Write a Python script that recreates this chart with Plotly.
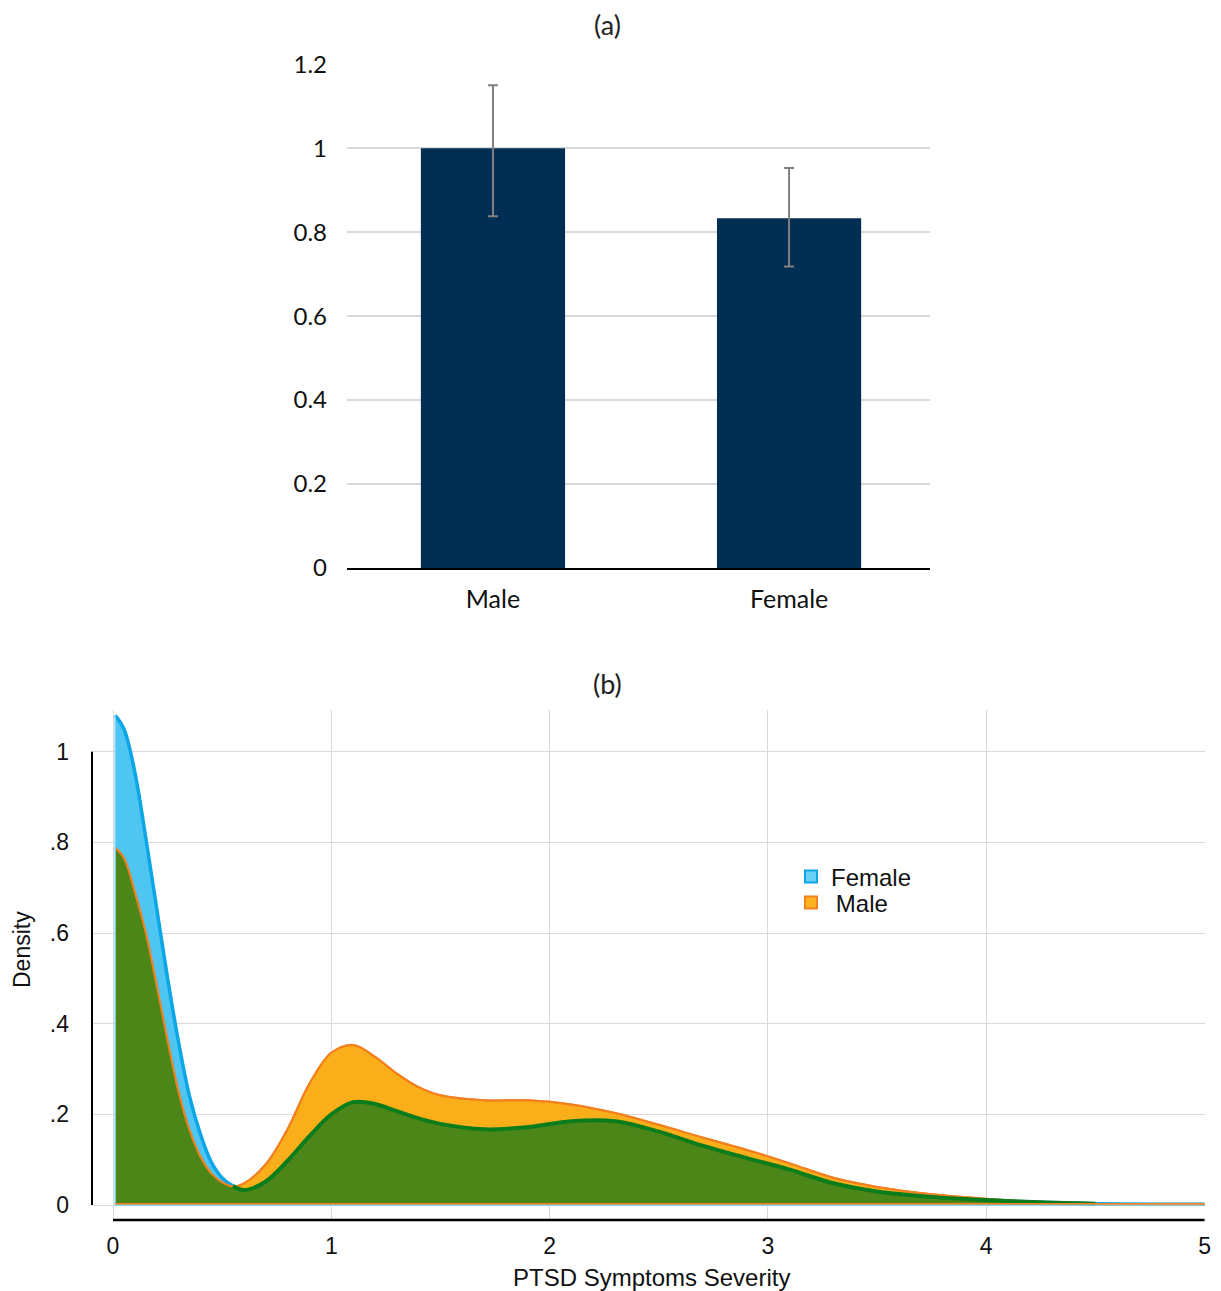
import plotly.graph_objects as go

# ---- (a) bar chart data ----
bar_categories = ["Male", "Female"]
bar_values = [1.0, 0.833]
err_plus = [0.15, 0.12]
err_minus = [0.162, 0.115]
bar_ytickvals = [0, 0.2, 0.4, 0.6, 0.8, 1.0, 1.2]
bar_yticktext = ["0", "0.2", "0.4", "0.6", "0.8", "1", "1.2"]

# ---- (b) density data ----
sev_x = [0.01, 0.05, 0.1, 0.15, 0.2, 0.25, 0.3, 0.35, 0.4, 0.45, 0.5, 0.55, 0.6,
         0.7, 0.8, 0.9, 1.0, 1.1, 1.2, 1.3, 1.4, 1.5, 1.7, 1.9, 2.1, 2.3, 2.5,
         2.7, 2.9, 3.1, 3.3, 3.5, 3.75, 4.0, 4.25, 4.5, 4.75, 5.0]
female_density = [1.08, 1.05, 0.955, 0.81, 0.655, 0.50, 0.36, 0.241, 0.157, 0.095, 0.06, 0.042, 0.033,
                  0.052, 0.098, 0.152, 0.2, 0.227, 0.223, 0.207, 0.191, 0.179, 0.167, 0.172, 0.185, 0.185, 0.162,
                  0.131, 0.104, 0.078, 0.048, 0.03, 0.018, 0.011, 0.006, 0.003, 0.002, 0.002]
male_density = [0.788, 0.765, 0.69, 0.60, 0.484, 0.362, 0.25, 0.166, 0.107, 0.07, 0.05, 0.041, 0.048,
                 0.09, 0.168, 0.268, 0.336, 0.353, 0.327, 0.29, 0.26, 0.242, 0.231, 0.231, 0.222, 0.203, 0.177,
                 0.149, 0.122, 0.092, 0.06, 0.04, 0.024, 0.014, 0.006, 0.002, 0.001, 0.0]
dens_ytickvals = [0, 0.2, 0.4, 0.6, 0.8, 1.0]
dens_yticktext = ["0", ".2", ".4", ".6", ".8", "1"]
dens_xtickvals = [0, 1, 2, 3, 4, 5]

overlap = [min(f, m) for f, m in zip(female_density, male_density)]
below = [f <= m for f, m in zip(female_density, male_density)]
green_line = []
for i, f in enumerate(female_density):
    near = below[i] or (i > 0 and below[i - 1]) or (i < len(below) - 1 and below[i + 1])
    green_line.append(f if near else None)

BLUE_FILL = "#4FC5F2"
BLUE_LINE = "#0AA6E8"
ORANGE_FILL = "#F9AE1A"
ORANGE_LINE = "#F3801F"
GREEN_FILL = "#4C8518"
GREEN_LINE = "#0A7C1C"

# page body adds an 8px offset; map screen pixels to paper coordinates
OFF = 8
W, H = 1221 - OFF, 1291 - OFF


def px(xp):
    return (xp - OFF) / W


def py(yp):
    return 1 - (yp - OFF) / H


fig = go.Figure()

fig.add_trace(go.Bar(
    x=bar_categories, y=bar_values, marker_color="#032E54", marker_line_width=0, width=0.487,
    error_y=dict(type="data", symmetric=False, array=err_plus, arrayminus=err_minus,
                 color="#808080", thickness=2, width=5),
    xaxis="x", yaxis="y", showlegend=False,
))

fig.add_trace(go.Scatter(
    x=sev_x, y=female_density, mode="lines", line=dict(color=BLUE_LINE, width=3.5, shape="spline"),
    fill="tozeroy", fillcolor=BLUE_FILL, showlegend=False, xaxis="x2", yaxis="y2",
))
fig.add_trace(go.Scatter(
    x=sev_x, y=male_density, mode="lines", line=dict(color=ORANGE_LINE, width=2, shape="spline"),
    fill="tozeroy", fillcolor=ORANGE_FILL, showlegend=False, xaxis="x2", yaxis="y2",
))
fig.add_trace(go.Scatter(
    x=sev_x, y=overlap, mode="lines", line=dict(width=0, shape="spline"),
    fill="tozeroy", fillcolor=GREEN_FILL, showlegend=False, hoverinfo="skip", xaxis="x2", yaxis="y2",
))
fig.add_trace(go.Scatter(
    x=sev_x, y=male_density, mode="lines", line=dict(color=ORANGE_LINE, width=2, shape="spline"),
    showlegend=False, hoverinfo="skip", xaxis="x2", yaxis="y2",
))
fig.add_trace(go.Scatter(
    x=sev_x, y=green_line, mode="lines", line=dict(color=GREEN_LINE, width=4, shape="spline"),
    connectgaps=False, showlegend=False, hoverinfo="skip", xaxis="x2", yaxis="y2",
))
# outlines of the density areas along the edge and baseline
fig.add_trace(go.Scatter(
    x=[sev_x[0], sev_x[0], sev_x[-1]], y=[female_density[0], 0, 0], mode="lines",
    line=dict(color="#7FD3F5", width=1.5), showlegend=False, hoverinfo="skip", xaxis="x2", yaxis="y2",
))
fig.add_trace(go.Scatter(
    x=[sev_x[0], sev_x[-1]], y=[0.003, 0.003], mode="lines",
    line=dict(color=ORANGE_LINE, width=1.5), showlegend=False, hoverinfo="skip", xaxis="x2", yaxis="y2",
))
# legend swatches
fig.add_trace(go.Scatter(
    x=[None], y=[None], mode="markers", name="Female", legend="legend",
    marker=dict(symbol="square", size=12, color="#6DD0F5", line=dict(color=BLUE_LINE, width=2)),
    xaxis="x2", yaxis="y2",
))
fig.add_trace(go.Scatter(
    x=[None], y=[None], mode="markers", name="\u2009Male", legend="legend2",
    marker=dict(symbol="square", size=12, color="#FBB321", line=dict(color=ORANGE_LINE, width=2)),
    xaxis="x2", yaxis="y2",
))

TOP_FONT = "Lato, 'Noto Sans', sans-serif"
BOT_FONT = "'Liberation Sans', Arial, sans-serif"
INK = "#111111"

legend_common = dict(xanchor="left", yanchor="middle", bgcolor="rgba(0,0,0,0)",
                     font=dict(family=BOT_FONT, size=24, color=INK), itemwidth=30)

fig.update_layout(
    width=W, height=H,
    margin=dict(l=0, r=0, t=0, b=0, autoexpand=False),
    paper_bgcolor="white", plot_bgcolor="white",
    xaxis=dict(domain=[px(347), px(930)], anchor="y", range=[-0.493, 1.476], automargin=False,
               showgrid=False, showline=True, linecolor="black", linewidth=2, ticks="",
               ticklabelstandoff=8, tickfont=dict(family=TOP_FONT, size=25, color=INK)),
    yaxis=dict(domain=[py(568), py(64)], anchor="x", range=[0, 1.2005], automargin=False,
               tickvals=bar_ytickvals, ticktext=bar_yticktext,
               showgrid=True, gridcolor="#D9D9D9", gridwidth=1.5, zeroline=False,
               showline=False, ticks="", ticklabelstandoff=19,
               tickfont=dict(family=TOP_FONT, size=24, color=INK)),
    xaxis2=dict(domain=[px(92), px(1205)], anchor="y2", range=[-0.0962, 5.002], automargin=False,
                tickvals=dens_xtickvals, showgrid=True, gridcolor="#D9D9D9", gridwidth=1.2,
                zeroline=False, showline=False, ticks="", ticklabelstandoff=10,
                tickfont=dict(family=BOT_FONT, size=23, color=INK)),
    yaxis2=dict(domain=[py(1220), py(710)], anchor="x2", range=[-0.033, 1.092], automargin=False,
                tickvals=dens_ytickvals, ticktext=dens_yticktext,
                showgrid=True, gridcolor="#D9D9D9", gridwidth=1.2, zeroline=False,
                showline=False, ticks="", ticklabelstandoff=22,
                tickfont=dict(family=BOT_FONT, size=23, color=INK)),
    legend=dict(x=px(791), y=py(877), **legend_common),
    legend2=dict(x=px(791), y=py(903), **legend_common),
    annotations=[
        dict(text="(a)", x=px(607), y=py(25), xref="paper", yref="paper", showarrow=False,
             xanchor="center", yanchor="middle", font=dict(family=TOP_FONT, size=27, color="#222")),
        dict(text="(b)", x=px(607), y=py(683), xref="paper", yref="paper", showarrow=False,
             xanchor="center", yanchor="middle", font=dict(family=TOP_FONT, size=27, color="#222")),
        dict(text="PTSD Symptoms Severity", x=px(651), y=py(1277), xref="paper", yref="paper",
             showarrow=False, xanchor="center", yanchor="middle",
             font=dict(family=BOT_FONT, size=24, color=INK)),
        dict(text="Density", x=px(22), y=py(950), xref="paper", yref="paper", textangle=-90,
             showarrow=False, xanchor="center", yanchor="middle",
             font=dict(family=BOT_FONT, size=23, color=INK)),
    ],
    shapes=[
        dict(type="line", xref="x2 domain", x0=0, x1=0, yref="y2", y0=dens_ytickvals[0], y1=dens_ytickvals[-1],
             line=dict(color="black", width=2)),
        dict(type="line", xref="x2", x0=dens_xtickvals[0], x1=dens_xtickvals[-1], yref="y2 domain", y0=0, y1=0,
             line=dict(color="black", width=2.5)),
    ],
)

fig.write_html("out.html")
